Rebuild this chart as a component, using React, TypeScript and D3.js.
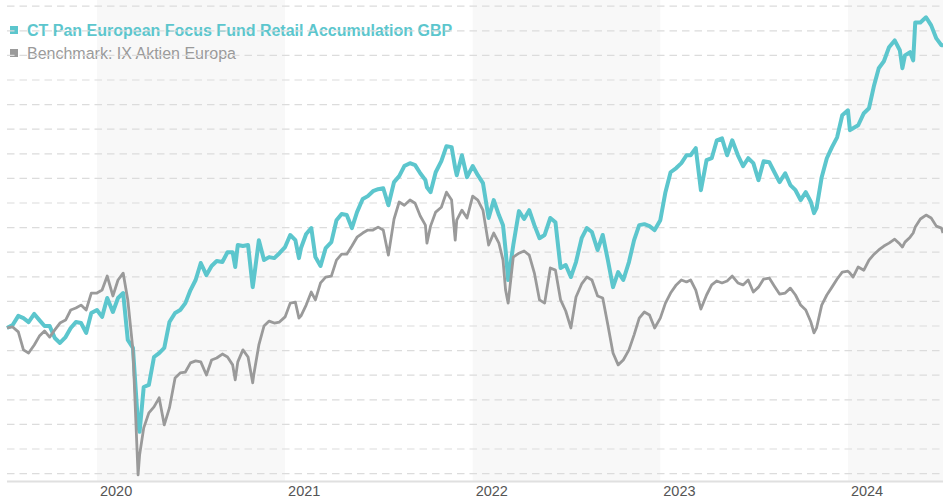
import React from 'react';
import * as d3 from 'd3';

const dates = [
  '2019-07-10','2019-07-21','2019-08-01','2019-08-11','2019-08-21','2019-09-01','2019-09-11','2019-09-21','2019-10-01','2019-10-11','2019-10-21','2019-11-01','2019-11-11','2019-11-21','2019-12-01','2019-12-11','2019-12-21',
  '2020-01-01','2020-01-11','2020-01-21','2020-02-01','2020-02-11','2020-02-21','2020-03-01','2020-03-11','2020-03-21','2020-03-24','2020-04-01','2020-04-11','2020-04-21','2020-05-01','2020-05-11','2020-05-21','2020-06-01','2020-06-11','2020-06-21','2020-07-01','2020-07-11','2020-07-21','2020-08-01','2020-08-11','2020-08-21','2020-09-01','2020-09-11','2020-09-21','2020-09-26','2020-10-01','2020-10-11','2020-10-21','2020-10-30','2020-11-01','2020-11-11','2020-11-21','2020-12-01','2020-12-11','2020-12-21',
  '2021-01-01','2021-01-11','2021-01-21','2021-01-28','2021-02-01','2021-02-11','2021-02-21','2021-03-01','2021-03-11','2021-03-21','2021-04-01','2021-04-11','2021-04-21','2021-05-01','2021-05-11','2021-05-21','2021-06-01','2021-06-11','2021-06-21','2021-07-01','2021-07-11','2021-07-21','2021-08-01','2021-08-11','2021-08-21','2021-09-01','2021-09-11','2021-09-21','2021-10-01','2021-10-04','2021-10-11','2021-10-21','2021-11-01','2021-11-11','2021-11-21','2021-11-28','2021-12-01','2021-12-11','2021-12-21',
  '2022-01-01','2022-01-11','2022-01-21','2022-02-01','2022-02-11','2022-02-21','2022-03-01','2022-03-06','2022-03-11','2022-03-21','2022-04-01','2022-04-11','2022-04-21','2022-05-01','2022-05-11','2022-05-21','2022-06-01','2022-06-11','2022-06-21','2022-07-01','2022-07-11','2022-07-21','2022-08-01','2022-08-11','2022-08-21','2022-09-01','2022-09-11','2022-09-21','2022-10-01','2022-10-11','2022-10-21','2022-11-01','2022-11-11','2022-11-21','2022-12-01','2022-12-11','2022-12-21',
  '2023-01-01','2023-01-11','2023-01-21','2023-02-01','2023-02-11','2023-02-21','2023-03-01','2023-03-11','2023-03-21','2023-04-01','2023-04-11','2023-04-21','2023-05-01','2023-05-11','2023-05-21','2023-06-01','2023-06-11','2023-06-21','2023-07-01','2023-07-11','2023-07-21','2023-08-01','2023-08-11','2023-08-21','2023-09-01','2023-09-11','2023-09-21','2023-10-01','2023-10-11','2023-10-21','2023-10-27','2023-11-01','2023-11-11','2023-11-21','2023-12-01','2023-12-11','2023-12-21',
  '2024-01-01','2024-01-05','2024-01-11','2024-01-21','2024-02-01','2024-02-11','2024-02-21','2024-03-01','2024-03-11','2024-03-21','2024-04-01','2024-04-11','2024-04-16','2024-04-21','2024-05-01','2024-05-07','2024-05-11','2024-05-21','2024-06-01','2024-06-11','2024-06-21','2024-07-01','2024-07-04',
];

const fundValues = [
  99.2, 100.4, 104.1, 103.2, 101.6, 104.9, 102.4, 100.0, 100.0, 95.1, 93.1, 95.5, 99.2, 101.6, 101.2, 97.2, 105.3,
  106.5, 103.7, 111.4, 105.7, 111.4, 113.4, 94.3, 91.1, 59.8, 57.0, 75.2, 76.1, 87.4, 89.0, 91.1, 101.6, 105.3, 106.5, 109.3, 114.6, 118.7, 125.6, 120.7, 124.4, 126.4, 126.0, 130.0, 130.0, 124.0, 132.9, 132.5, 132.9, 115.8, 118.7, 134.9, 126.8, 128.0, 127.6, 129.6,
  132.1, 137.0, 134.9, 127.6, 131.7, 137.4, 139.8, 128.0, 124.4, 131.7, 134.1, 143.0, 145.5, 145.1, 139.8, 146.3, 151.6, 152.8, 154.8, 155.6, 156.0, 149.1, 158.5, 160.9, 165.0, 166.2, 165.4, 162.1, 159.3, 156.4, 154.4, 162.5, 167.0, 173.1, 172.7, 164.2, 161.3, 169.4, 160.5,
  165.0, 161.3, 158.1, 143.9, 151.2, 145.1, 141.0, 130.9, 118.7, 132.9, 146.7, 143.5, 147.1, 141.0, 135.7, 137.0, 143.9, 142.2, 123.6, 124.8, 119.9, 126.0, 135.7, 139.8, 138.2, 130.9, 137.0, 126.8, 115.8, 121.9, 118.7, 126.0, 134.9, 141.0, 141.4, 140.6, 139.0,
  143.0, 154.4, 162.5, 164.2, 166.2, 169.4, 169.4, 172.3, 155.2, 167.4, 168.2, 175.5, 176.3, 169.4, 175.5, 169.4, 165.0, 168.2, 166.2, 159.3, 167.0, 166.6, 162.5, 158.5, 162.1, 157.3, 155.2, 151.2, 154.4, 150.4, 145.9, 147.9, 160.5, 168.2, 172.7, 176.7, 185.7,
  187.7, 179.6, 180.4, 181.6, 186.5, 188.5, 197.9, 204.8, 207.6, 213.3, 216.1, 212.1, 204.8, 210.0, 211.3, 208.0, 223.4, 223.4, 225.5, 222.2, 216.9, 214.1, 214.1,
];

const benchValues = [
  99.2, 99.6, 97.6, 90.3, 89.0, 92.3, 95.9, 98.0, 95.5, 98.4, 101.2, 102.4, 106.5, 107.3, 108.5, 106.5, 113.4,
  113.4, 114.6, 120.3, 112.2, 118.7, 121.5, 110.6, 90.3, 39.5, 47.6, 58.6, 64.7, 67.1, 70.8, 59.8, 66.7, 78.9, 80.9, 81.3, 85.0, 85.8, 85.4, 80.1, 86.2, 87.0, 88.6, 87.4, 84.2, 78.1, 85.4, 90.3, 87.4, 76.9, 80.1, 92.3, 100.0, 102.0, 101.2, 101.6,
  103.7, 109.3, 109.7, 103.2, 104.1, 108.5, 113.8, 110.6, 117.5, 119.9, 120.3, 126.8, 129.2, 129.2, 132.5, 136.1, 137.8, 139.0, 139.0, 140.2, 139.0, 128.8, 143.5, 150.4, 149.1, 151.2, 149.9, 144.7, 141.0, 133.7, 140.6, 146.3, 148.3, 154.4, 151.2, 134.9, 143.0, 147.1, 143.9,
  152.8, 151.2, 147.1, 132.9, 137.8, 133.7, 126.8, 114.6, 109.3, 128.0, 129.6, 130.5, 128.8, 121.5, 110.6, 109.3, 123.6, 122.7, 110.6, 106.1, 99.2, 111.8, 117.1, 119.9, 118.7, 112.2, 111.4, 100.4, 89.0, 84.2, 86.2, 90.3, 96.4, 103.2, 105.7, 104.5, 99.2,
  103.2, 109.3, 113.4, 116.7, 118.7, 117.9, 118.7, 114.6, 106.9, 112.6, 116.7, 118.3, 117.5, 118.3, 120.3, 117.5, 116.7, 118.7, 113.8, 115.8, 119.1, 119.5, 116.2, 113.0, 113.4, 115.4, 112.6, 108.5, 106.5, 101.6, 97.2, 99.2, 108.5, 112.6, 115.8, 119.1, 121.9,
  122.3, 121.5, 119.9, 124.0, 122.7, 126.8, 129.2, 130.9, 132.5, 133.7, 135.3, 133.3, 132.1, 134.1, 136.1, 137.8, 140.2, 143.5, 145.1, 143.9, 140.6, 139.8, 137.8,
];

const gridValues = [40, 50, 60, 70, 80, 90, 100, 110, 120, 130, 140, 150, 160, 170, 180, 190, 200, 210, 220, 230];
const yearTicks = ['2020', '2021', '2022', '2023', '2024'];
const shadedYears = ['2020', '2022', '2024'];
const fundName = 'CT Pan European Focus Fund Retail Accumulation GBP';
const benchName = 'Benchmark: IX Aktien Europa';

const TEAL = '#5cc6cd';
const GRAY = '#9a9a9a';

export default function App() {
  const W = 943;
  const H = 500;
  const parse = d3.timeParse('%Y-%m-%d');
  const parsed = dates.map((d) => parse(d) as Date);
  const x = d3
    .scaleTime()
    .domain([parse('2019-07-10') as Date, parse('2024-07-04') as Date])
    .range([7, 943]);
  const y = d3.scaleLinear().domain([40, 230]).range([473.6, 6.2]);
  const axisY = 481.5;

  const line = d3
    .line<number>()
    .x((_, i) => x(parsed[i]))
    .y((v) => y(v))
    .curve(d3.curveLinear);

  return (
    <svg
      width={W}
      height={H}
      style={{ position: 'absolute', left: 0, top: 0, background: '#fff' }}
      fontFamily="'Liberation Sans', Arial, sans-serif"
    >
      {shadedYears.map((yr) => {
        const x0 = x(parse(`${yr}-01-01`) as Date);
        const x1 = Math.min(W, x(parse(`${+yr + 1}-01-01`) as Date));
        return <rect key={yr} x={x0} y={0} width={x1 - x0} height={axisY} fill="#f8f8f8" />;
      })}

      <g>
        <rect x={10} y={26} width={8} height={8} fill={TEAL} />
        <text x={27} y={36} fontSize={16} fontWeight="bold" fill={TEAL}>
          {fundName}
        </text>
        <rect x={10} y={49} width={8} height={8} fill={GRAY} />
        <text x={27} y={58.5} fontSize={16} fill={GRAY}>
          {benchName}
        </text>
      </g>

      {gridValues.map((v) => (
        <line
          key={v}
          x1={7}
          x2={W}
          y1={y(v)}
          y2={y(v)}
          stroke="#dcdcdc"
          strokeWidth={1.2}
          strokeDasharray="7.5,5"
        />
      ))}

      <line x1={7} x2={W} y1={axisY} y2={axisY} stroke="#e0e0e0" strokeWidth={2} />

      {yearTicks.map((yr) => (
        <text
          key={yr}
          x={x(parse(`${yr}-01-01`) as Date) + 3}
          y={496}
          fontSize={14.5}
          fill="#555"
        >
          {yr}
        </text>
      ))}

      <path d={line(fundValues) || ''} fill="none" stroke={TEAL} strokeWidth={4} strokeLinejoin="round" />
      <path d={line(benchValues) || ''} fill="none" stroke={GRAY} strokeWidth={2.8} strokeLinejoin="round" />
    </svg>
  );
}
